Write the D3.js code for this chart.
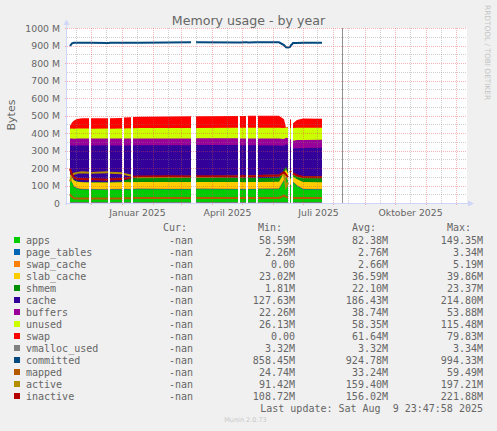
<!DOCTYPE html>
<html>
<head>
<meta charset="utf-8">
<script src="https://cdn.jsdelivr.net/npm/d3@7"></script>
<style>
  html, body { margin: 0; padding: 0; background: #f0f0f0; }
  svg { display: block; }
  text { font-family: "DejaVu Sans", sans-serif; fill: #666; }
  .mono { font-family: "DejaVu Sans Mono", monospace; font-size: 10px; white-space: pre; }
</style>
</head>
<body>
<svg id="chart" width="497" height="431"></svg>
<script>
// sample days (null = no data that day)
const dates = ["2024-11-10","2024-11-12","2024-11-14","2024-11-17","2024-11-22","2024-11-29","2024-11-30","2024-12-01",
  "2024-12-18","2024-12-19","2024-12-20","2025-01-01","2025-01-02","2025-01-03","2025-01-10","2025-01-11","2025-01-12",
  "2025-01-18","2025-02-15","2025-03-11","2025-03-13","2025-03-16","2025-04-27","2025-04-28","2025-04-29","2025-05-05",
  "2025-05-06","2025-05-07","2025-05-15","2025-05-16","2025-05-17","2025-06-07","2025-06-12","2025-06-14","2025-06-16",
  "2025-06-17","2025-06-18","2025-06-19","2025-06-20","2025-06-21","2025-06-25","2025-07-01","2025-07-20"];

// values in MB
const apps        = [140,118,95,84,79,78,null,78,77,null,78,79,null,80,79,null,80,81,80,80,null,81,80,null,80,79,null,80,80,null,81,82,130,149,125,null,105,100,null,120,100,80,79];
const page_tables = [2.3,2.5,2.6,2.7,2.8,2.8,null,2.8,2.8,null,2.8,2.8,null,2.8,2.8,null,2.8,2.8,2.8,2.8,null,2.8,2.8,null,2.8,2.8,null,2.8,2.8,null,2.8,2.8,3.0,3.3,3.3,null,3.0,3.0,null,3.0,2.8,2.8,2.8];
const swap_cache  = [0.5,1,2,3,3.5,3.5,null,3.5,3.5,null,3.5,3.5,null,3,3,null,2.5,2.5,2.5,2.5,null,2.5,2.5,null,2.5,2.5,null,2.5,2.5,null,2.5,2.5,4,5,5,null,4,4,null,3,2.5,2.5,2.5];
const slab_cache  = [24,28,32,35,36,36,null,36,36,null,36,36,null,37,37,null,37,37,37,37,null,37,37,null,37,37,null,37,37,null,37,37,38,38,38,null,34,30,null,28,33,37,37];
const shmem       = [2,2,2,2,2,2.5,null,2.5,2.5,null,2.5,4,null,10,20,null,22,23,23,23,null,23,23,null,23,23,null,23,23,null,23,23,20,15,12,null,14,15,null,18,22,23,23];
const cache       = [162,180,197,205,208,209,null,208,211,null,209,206,null,199,190,null,188,187,188,187,null,188,189,null,188,189,null,188,187,null,186,184,135,128,150,null,165,170,null,142,156,172,174];
const buffers     = [40,40,40,40,40,39,null,40,39,null,40,40,null,39,39,null,39,38,38,39,null,38,38,null,38,38,null,38,39,null,39,40,38,38,40,null,42,44,null,44,46,46,46];
const unused      = [57,57,57,57,57,58,null,57,57,null,56,57,null,58,59,null,59,60,60,60,null,59,60,null,61,61,null,62,62,null,62,62,64,58,60,null,65,66,null,74,70,69,68];
const swap        = [16,34,46,54,59,58,null,59,58,null,60,60,null,62,63,null,64,65,66,67,null,67,68,null,68,68,null,68,68,null,68,68,50,0,5,null,50,48,null,27,45,53,52];

const vmalloc_used = [3.32,3.32,3.32,3.32,3.32,3.32,null,3.32,3.32,null,3.32,3.32,null,3.32,3.32,null,3.32,3.32,3.32,3.32,null,3.32,3.32,null,3.32,3.32,null,3.32,3.32,null,3.32,3.32,3.33,3.34,3.33,null,3.32,3.32,null,3.32,3.32,3.32,3.32];
const committed   = [900,915,918,919,918,918,918,919,917,917,918,919,919,918,919,919,918,919,920,921,null,921,920,920,920,921,921,920,921,921,921,921,905,893,892,893,895,905,910,917,917,918,918];
const mapped      = [52,38,30,29,29,29,null,28,29,null,29,29,null,30,30,null,31,31,31,31,null,31,31,null,31,31,null,31,31,null,31,32,45,38,34,null,33,32,null,31,31,31,31];
const active      = [125,160,170,175,178,176,null,175,178,null,176,173,null,168,160,null,152,150,152,153,null,152,154,null,153,155,null,154,156,null,157,160,170,95,120,null,185,180,null,170,158,150,150];
const inactive    = [198,165,148,142,140,138,null,140,136,null,138,140,null,142,148,null,153,155,156,155,null,156,155,null,156,156,null,155,156,null,157,160,180,165,150,null,185,180,null,172,160,152,150];

const areaKeys   = ["apps","page_tables","swap_cache","slab_cache","shmem","cache","buffers","unused","swap"];
const lineKeys   = ["vmalloc_used","committed","mapped","active","inactive"];
const colors = {apps:"#00CC00", page_tables:"#0066B3", swap_cache:"#FF8000", slab_cache:"#FFCC00", shmem:"#008F00",
  cache:"#330099", buffers:"#990099", unused:"#CCFF00", swap:"#FF0000", vmalloc_used:"#808080", committed:"#00487D",
  mapped:"#B35A00", active:"#B38F00", inactive:"#B30000"};
const series = {apps, page_tables, swap_cache, slab_cache, shmem, cache, buffers, unused, swap,
  vmalloc_used, committed, mapped, active, inactive};

const yTicks = [0,100,200,300,400,500,600,700,800,900,1000];
const yTickLabels = ["0","100 M","200 M","300 M","400 M","500 M","600 M","700 M","800 M","900 M","1000 M"];
const xTickDates = ["2025-01-16","2025-04-16","2025-07-16","2025-10-16"];
const xTickLabels = ["Januar 2025","April 2025","Juli 2025","Oktober 2025"];

const legendNames = areaKeys.concat(lineKeys);
const curValues = legendNames.map(() => "-nan");
const minValues = ["58.59M","2.26M","0.00","23.02M","1.81M","127.63M","22.26M","26.13M","0.00","3.32M","858.45M","24.74M","91.42M","108.72M"];
const avgValues = ["82.38M","2.76M","2.66M","36.59M","22.10M","186.43M","38.74M","58.35M","61.64M","3.32M","924.78M","33.24M","159.40M","156.02M"];
const maxValues = ["149.35M","3.34M","5.19M","39.86M","23.37M","214.80M","53.88M","115.48M","79.83M","3.34M","994.33M","59.49M","197.21M","221.88M"];
const lastUpdate = "Last update: Sat Aug  9 23:47:58 2025";
const nowTime = "2025-08-09T23:47:58Z";

const parse = s => new Date(s.length > 10 ? s : s + "T00:00:00Z");
const rows = dates.map((d, i) => {
  const r = {date: parse(d)};
  for (const k in series) r[k] = series[k][i];
  return r;
});

const svg = d3.select("#chart");
const L = 67, R = 467, T = 28, B = 203;

const x = d3.scaleUtc().domain([parse("2024-11-07"), parse("2025-12-12")]).range([L, R]);
const y = d3.scaleLinear().domain([0, 1000]).range([B + 0.5, T + 0.5]);

svg.append("rect").attr("x", L).attr("y", T).attr("width", R - L).attr("height", B - T).attr("fill", "#fff");

// stacked areas, painted top layer first from zero so no seams show
const stacked = d3.stack().keys(areaKeys).value((d, k) => d[k] == null ? NaN : d[k])(rows);
const area = d3.area()
  .defined(d => !isNaN(d[1]))
  .x(d => x(d.data.date))
  .y0(y(0))
  .y1(d => y(d[1]));
svg.append("g").selectAll("path")
  .data(stacked.slice().reverse())
  .join("path")
  .attr("d", area)
  .attr("fill", d => colors[d.key]);

// lines
const line = d3.line().defined(d => d.v != null).x(d => x(d.date)).y(d => y(d.v));
svg.append("g").selectAll("path")
  .data(lineKeys)
  .join("path")
  .attr("d", k => line(rows.map(r => ({date: r.date, v: r[k]}))))
  .attr("fill", "none")
  .attr("stroke", k => colors[k])
  .attr("stroke-width", 2);

// grid over the graph
const grid = svg.append("g").attr("shape-rendering", "crispEdges").attr("stroke-dasharray", "1,1");
const minorCol = "rgba(128,128,128,0.38)", majorCol = "rgba(225,70,70,0.4)";
const minorY = d3.range(50, 1000, 100);
grid.selectAll(".gy").data(minorY).join("line")
  .attr("x1", L).attr("x2", R)
  .attr("y1", d => Math.floor(y(d)) + 0.5).attr("y2", d => Math.floor(y(d)) + 0.5)
  .attr("stroke", minorCol);
const minorX = d3.utcMonth.range(parse("2024-11-01"), parse("2025-12-02")).map(d => d3.utcDay.offset(d, 15));
grid.selectAll(".gx").data(minorX.filter(d => x(d) > L && x(d) < R)).join("line")
  .attr("y1", T).attr("y2", B)
  .attr("x1", d => Math.floor(x(d)) + 0.5).attr("x2", d => Math.floor(x(d)) + 0.5)
  .attr("stroke", minorCol);
grid.selectAll(".my").data(yTicks.slice(1)).join("line")
  .attr("x1", L - 2).attr("x2", R)
  .attr("y1", d => Math.floor(y(d)) + 0.5).attr("y2", d => Math.floor(y(d)) + 0.5)
  .attr("stroke", majorCol);
const majorX = d3.utcMonth.range(parse("2024-11-08"), parse("2025-12-12"));
grid.selectAll(".mx").data(majorX).join("line")
  .attr("y1", T).attr("y2", B + 3)
  .attr("x1", d => Math.floor(x(d)) + 0.5).attr("x2", d => Math.floor(x(d)) + 0.5)
  .attr("stroke", majorCol);

// last update marker
svg.append("line")
  .attr("x1", Math.floor(x(parse(nowTime))) + 0.5).attr("x2", Math.floor(x(parse(nowTime))) + 0.5)
  .attr("y1", T).attr("y2", B)
  .attr("stroke", "#909090").attr("shape-rendering", "crispEdges");

// axes lines with arrows
const axisCol = "#CFD6F8";
svg.append("line").attr("x1", L - 0.5).attr("x2", L - 0.5).attr("y1", B + 2).attr("y2", 23)
  .attr("stroke", axisCol).attr("shape-rendering", "crispEdges");
svg.append("line").attr("x1", L - 2).attr("x2", 470).attr("y1", B + 0.5).attr("y2", B + 0.5)
  .attr("stroke", axisCol).attr("shape-rendering", "crispEdges");
svg.append("path").attr("d", `M${L - 3.5},25 L${L - 0.5},19.5 L${L + 2.5},25 Z`).attr("fill", axisCol);
svg.append("path").attr("d", `M468,${B - 2.5} L474,${B + 0.5} L468,${B + 3.5} Z`).attr("fill", axisCol);

// tick labels
const yAxis = svg.append("g").attr("transform", `translate(${L},0)`)
  .call(d3.axisLeft(y).tickValues(yTicks).tickFormat((d, i) => yTickLabels[i]).tickSize(0).tickPadding(7));
const xAxis = svg.append("g").attr("transform", `translate(0,${B})`)
  .call(d3.axisBottom(x).tickValues(xTickDates.map(parse)).tickFormat((d, i) => xTickLabels[i]).tickSize(0).tickPadding(6));
[yAxis, xAxis].forEach(g => {
  g.select(".domain").remove();
  g.selectAll("text").attr("fill", "#666").style("font-family", "'DejaVu Sans', sans-serif").style("font-size", "9.3px");
});

// title, unit, watermark
svg.append("text").attr("x", 248.5).attr("y", 25).attr("text-anchor", "middle")
  .style("font-size", "12.6px").text("Memory usage - by year");
svg.append("text").attr("transform", "translate(11,115) rotate(-90)").attr("text-anchor", "middle")
  .attr("dy", "0.35em").style("font-size", "11px").text("Bytes");
svg.append("text").attr("transform", "translate(485,5) rotate(90)")
  .style("font-size", "7.4px").style("fill", "#c4c4c4").text("RRDTOOL / TOBI OETIKER");

// legend
const lg = svg.append("g");
const head = [["Cur:", 163], ["Min:", 258], ["Avg:", 352], ["Max:", 447]];
lg.selectAll(".h").data(head).join("text").attr("class", "mono")
  .attr("x", d => d[1]).attr("y", 227.3).attr("dy", "0.35em").text(d => d[0]);
const rowY = i => 240 + 12 * i;
lg.selectAll("rect").data(legendNames).join("rect")
  .attr("x", 14).attr("y", (d, i) => rowY(i) - 3).attr("width", 6).attr("height", 6)
  .attr("fill", d => colors[d]);
lg.selectAll(".n").data(legendNames).join("text").attr("class", "mono")
  .attr("x", 26).attr("y", (d, i) => rowY(i)).attr("dy", "0.35em").text(d => d);
[[curValues, 193], [minValues, 295], [avgValues, 388], [maxValues, 483]].forEach(([vals, xr]) => {
  lg.append("g").selectAll("text").data(vals).join("text").attr("class", "mono")
    .attr("x", xr).attr("y", (d, i) => rowY(i)).attr("dy", "0.35em").attr("text-anchor", "end").text(d => d);
});
lg.append("text").attr("class", "mono").attr("x", 483).attr("y", 408.3).attr("dy", "0.35em")
  .attr("text-anchor", "end").text(lastUpdate);
svg.append("text").attr("x", 245.5).attr("y", 422).attr("text-anchor", "middle")
  .style("font-size", "6.5px").style("fill", "#c8c8c8").text("Munin 2.0.73");
</script>
</body>
</html>
